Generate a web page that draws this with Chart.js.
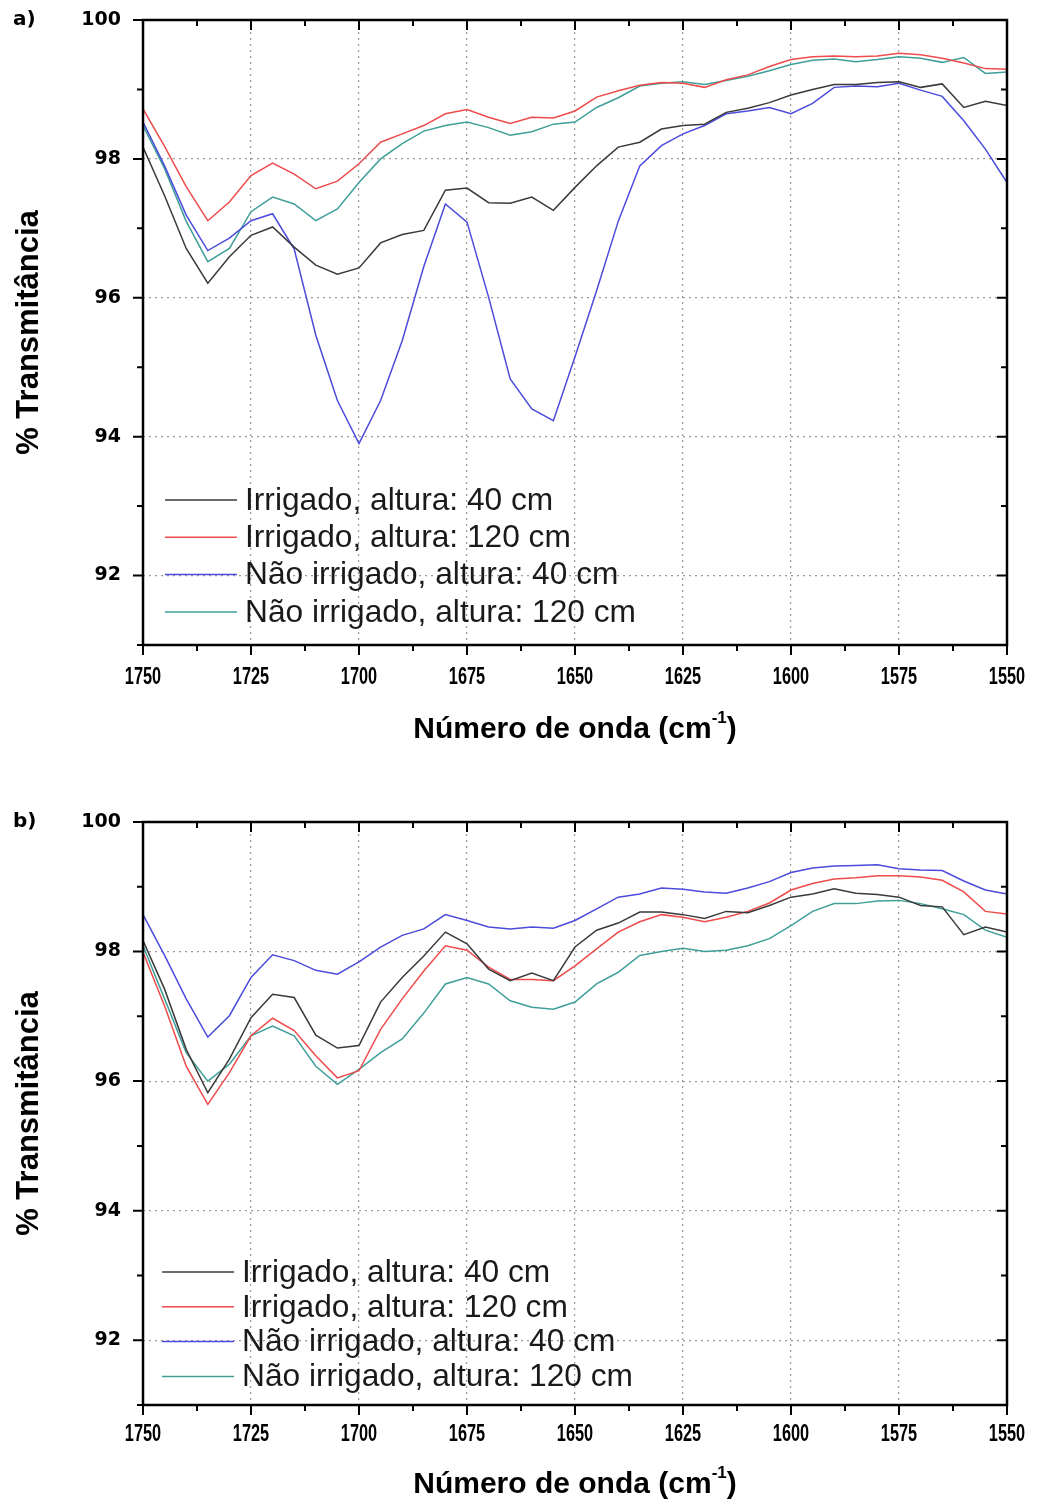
<!DOCTYPE html>
<html>
<head>
<meta charset="utf-8">
<title>Espectros FTIR</title>
<script src="https://cdn.jsdelivr.net/npm/chart.js@4.4.0/dist/chart.umd.min.js"></script>
<style>
  html, body { margin: 0; padding: 0; background: #fff; }
  canvas { display: block; }
</style>
</head>
<body>
<canvas id="chart-a" width="1038" height="751"></canvas>
<canvas id="chart-b" width="1038" height="751"></canvas>
<script>
"use strict";

// eixo x comum (cm-1), do maior para o menor
var waveNumbers = [1750, 1745, 1740, 1735, 1730, 1725, 1720, 1715, 1710, 1705,
    1700, 1695, 1690, 1685, 1680, 1675, 1670, 1665, 1660, 1655,
    1650, 1645, 1640, 1635, 1630, 1625, 1620, 1615, 1610, 1605,
    1600, 1595, 1590, 1585, 1580, 1575, 1570, 1565, 1560, 1555, 1550];

var xTickValues = [1750, 1725, 1700, 1675, 1650, 1625, 1600, 1575, 1550];
var yTickValues = [92, 94, 96, 98, 100];

var seriesLabels = ["Irrigado, altura: 40 cm", "Irrigado, altura: 120 cm",
    "Não irrigado, altura: 40 cm", "Não irrigado, altura: 120 cm"];
var seriesColors = ["#3a3a3a", "#ee4b4b", "#4b4bdc", "#3f9f99"];

// painel a)
var irrig40A = [98.17, 97.47, 96.71, 96.21, 96.59, 96.90, 97.02, 96.73, 96.47, 96.34,
    96.43, 96.79, 96.91, 96.97, 97.55, 97.58, 97.37, 97.36, 97.45, 97.26,
    97.59, 97.90, 98.17, 98.24, 98.43, 98.48, 98.50, 98.67, 98.73, 98.81,
    98.92, 99.00, 99.07, 99.07, 99.10, 99.11, 99.03, 99.08, 98.74, 98.83, 98.77];
var irrig120A = [98.72, 98.18, 97.60, 97.11, 97.38, 97.76, 97.94, 97.78, 97.57, 97.68,
    97.93, 98.24, 98.36, 98.48, 98.65, 98.71, 98.60, 98.51, 98.60, 98.59,
    98.69, 98.89, 98.98, 99.06, 99.10, 99.09, 99.03, 99.14, 99.21, 99.33,
    99.43, 99.47, 99.48, 99.47, 99.48, 99.52, 99.50, 99.45, 99.38, 99.30, 99.29];
var naoIrrig40A = [98.53, 97.90, 97.19, 96.68, 96.86, 97.11, 97.21, 96.70, 95.46, 94.52,
    93.90, 94.52, 95.38, 96.45, 97.35, 97.09, 96.01, 94.83, 94.40, 94.23,
    95.15, 96.10, 97.10, 97.90, 98.19, 98.36, 98.48, 98.65, 98.69, 98.74,
    98.65, 98.80, 99.03, 99.05, 99.04, 99.09, 98.99, 98.90, 98.55, 98.14, 97.66];
var naoIrrig120A = [98.48, 97.86, 97.10, 96.52, 96.71, 97.24, 97.45, 97.35, 97.11, 97.28,
    97.66, 98.00, 98.22, 98.40, 98.48, 98.53, 98.45, 98.34, 98.39, 98.50,
    98.53, 98.74, 98.88, 99.05, 99.09, 99.11, 99.07, 99.13, 99.19, 99.27,
    99.36, 99.42, 99.44, 99.40, 99.43, 99.47, 99.45, 99.39, 99.46, 99.23, 99.25];

// painel b)
var irrig40B = [98.17, 97.42, 96.49, 95.82, 96.34, 96.98, 97.34, 97.29, 96.71, 96.51,
    96.55, 97.22, 97.60, 97.93, 98.30, 98.12, 97.73, 97.55, 97.67, 97.55,
    98.07, 98.33, 98.44, 98.61, 98.61, 98.57, 98.51, 98.62, 98.60, 98.71,
    98.84, 98.89, 98.97, 98.90, 98.88, 98.84, 98.71, 98.69, 98.26, 98.38, 98.30];
var irrig120B = [97.99, 97.16, 96.23, 95.64, 96.13, 96.70, 96.97, 96.78, 96.39, 96.05,
    96.16, 96.80, 97.27, 97.70, 98.09, 98.02, 97.76, 97.57, 97.57, 97.55,
    97.78, 98.04, 98.30, 98.46, 98.57, 98.53, 98.46, 98.53, 98.62, 98.75,
    98.95, 99.05, 99.12, 99.14, 99.17, 99.17, 99.15, 99.10, 98.92, 98.62, 98.58];
var naoIrrig40B = [98.57, 97.94, 97.27, 96.68, 97.01, 97.60, 97.95, 97.86, 97.71, 97.65,
    97.84, 98.07, 98.25, 98.35, 98.57, 98.48, 98.38, 98.35, 98.38, 98.36,
    98.48, 98.66, 98.84, 98.89, 98.98, 98.96, 98.92, 98.90, 98.98, 99.08,
    99.22, 99.29, 99.32, 99.33, 99.34, 99.28, 99.26, 99.25, 99.09, 98.95, 98.89];
var naoIrrig120B = [98.09, 97.27, 96.44, 96.00, 96.26, 96.70, 96.85, 96.70, 96.23, 95.95,
    96.18, 96.44, 96.65, 97.05, 97.50, 97.60, 97.50, 97.24, 97.14, 97.11,
    97.22, 97.50, 97.68, 97.94, 98.00, 98.05, 98.00, 98.02, 98.09, 98.20,
    98.40, 98.62, 98.74, 98.74, 98.78, 98.79, 98.74, 98.66, 98.57, 98.33, 98.22];

var sansFont = '"Liberation Sans", Arial, sans-serif';
var wideFont = '"DejaVu Sans", "Liberation Sans", sans-serif';

function toPoints(values) {
    return values.map(function (v, i) { return {x: waveNumbers[i], y: v}; });
}

/* moldura, marcas menores/maiores, rótulos x, legenda e títulos dos eixos */
var axesFrame = {
    id: 'axesFrame',
    afterDatasetsDraw: function (chart, args, opts) {
        var ctx = chart.ctx, a = chart.chartArea;
        var xs = chart.scales.x, ys = chart.scales.y;
        var major = 10, minor = 6, i, p;
        ctx.save();
        ctx.strokeStyle = '#000';
        ctx.lineWidth = 2;
        ctx.beginPath();
        for (i = 0; i < xTickValues.length; i++) {
            p = xs.getPixelForValue(xTickValues[i]);
            ctx.moveTo(p, a.bottom); ctx.lineTo(p, a.bottom + major);
            ctx.moveTo(p, a.top); ctx.lineTo(p, a.top + major);
            if (i < xTickValues.length - 1) {
                p = xs.getPixelForValue(xTickValues[i] - 12.5);
                ctx.moveTo(p, a.bottom); ctx.lineTo(p, a.bottom + minor);
                ctx.moveTo(p, a.top); ctx.lineTo(p, a.top + minor);
            }
        }
        for (i = 0; i < yTickValues.length; i++) {
            p = ys.getPixelForValue(yTickValues[i]);
            ctx.moveTo(a.left - major, p); ctx.lineTo(a.left, p);
            ctx.moveTo(a.right - major, p); ctx.lineTo(a.right, p);
            p = ys.getPixelForValue(yTickValues[i] - 1);
            ctx.moveTo(a.left - minor, p); ctx.lineTo(a.left, p);
            ctx.moveTo(a.right - minor, p); ctx.lineTo(a.right, p);
        }
        ctx.stroke();
        ctx.lineWidth = 2.5;
        ctx.strokeRect(a.left, a.top, a.right - a.left, a.bottom - a.top);

        // rótulos do eixo x, em fonte estreita
        ctx.fillStyle = '#000';
        ctx.font = 'bold 24px ' + sansFont;
        ctx.textAlign = 'center';
        ctx.textBaseline = 'middle';
        for (i = 0; i < xTickValues.length; i++) {
            p = xs.getPixelForValue(xTickValues[i]);
            ctx.save();
            ctx.translate(p, a.bottom + opts.xLabelOffset);
            ctx.scale(0.68, 1);
            ctx.fillText(String(xTickValues[i]), 0, 0);
            ctx.restore();
        }

        // legenda dentro da área do gráfico
        ctx.font = '31.7px ' + sansFont;
        ctx.textAlign = 'left';
        chart.data.datasets.forEach(function (ds, k) {
            var y = opts.legendY + k * opts.legendStep;
            ctx.strokeStyle = ds.borderColor;
            ctx.lineWidth = 1.5;
            ctx.beginPath();
            ctx.moveTo(opts.legendX, y); ctx.lineTo(opts.legendX + 72, y);
            ctx.stroke();
            ctx.fillStyle = '#1a1a1a';
            ctx.fillText(ds.label, opts.legendX + 80, y + 1);
        });

        // rótulo do painel
        ctx.fillStyle = '#000';
        ctx.font = 'bold 20px ' + wideFont;
        ctx.fillText(opts.panel, 13, a.top);

        // título do eixo x com expoente
        var main = 'Número de onda (cm', sup = '-1', tail = ')';
        ctx.font = 'bold 30px ' + sansFont;
        var w1 = ctx.measureText(main).width, w3 = ctx.measureText(tail).width;
        ctx.font = 'bold 17px ' + sansFont;
        var w2 = ctx.measureText(sup).width;
        var x0 = (a.left + a.right) / 2 - (w1 + w2 + w3) / 2;
        ctx.font = 'bold 30px ' + sansFont;
        ctx.fillText(main, x0, opts.xTitleY);
        ctx.fillText(tail, x0 + w1 + w2, opts.xTitleY);
        ctx.font = 'bold 17px ' + sansFont;
        ctx.fillText(sup, x0 + w1, opts.xTitleY - 12);

        // título do eixo y
        ctx.font = 'bold 31px ' + sansFont;
        ctx.textAlign = 'center';
        ctx.translate(29, (a.top + a.bottom) / 2);
        ctx.rotate(-Math.PI / 2);
        ctx.fillText('% Transmitância', 0, 0);
        ctx.restore();
    }
};

function makeChart(id, series, frameOpts) {
    var ctx = document.getElementById(id).getContext('2d');
    return new Chart(ctx, {
        type: 'line',
        data: {
            datasets: series.map(function (values, k) {
                return {
                    label: seriesLabels[k],
                    data: toPoints(values),
                    borderColor: seriesColors[k],
                    borderWidth: 1.5,
                    pointRadius: 0,
                    fill: false,
                    tension: 0
                };
            })
        },
        options: {
            responsive: false,
            animation: false,
            devicePixelRatio: 1,
            layout: {padding: {left: 0, right: 31, top: frameOpts.top, bottom: 0}},
            plugins: {
                legend: {display: false},
                tooltip: {enabled: false},
                axesFrame: frameOpts
            },
            scales: {
                x: {
                    type: 'linear',
                    reverse: true,
                    min: 1550,
                    max: 1750,
                    afterBuildTicks: function (s) {
                        s.ticks = xTickValues.map(function (v) { return {value: v}; });
                    },
                    afterFit: function (s) {
                        s.height = frameOpts.xAxisHeight;
                        s.paddingLeft = 0;
                        s.paddingRight = 0;
                    },
                    grid: {color: '#9a9a9a', lineWidth: 1.2, drawTicks: false},
                    border: {display: false, dash: [2, 4]},
                    ticks: {display: false}
                },
                y: {
                    min: 91,
                    max: 100,
                    afterBuildTicks: function (s) {
                        s.ticks = yTickValues.map(function (v) { return {value: v}; });
                    },
                    afterFit: function (s) {
                        s.width = 143;
                        s.paddingTop = 0;
                        s.paddingBottom = 0;
                    },
                    grid: {color: '#9a9a9a', lineWidth: 1.2, drawTicks: false},
                    border: {display: false, dash: [2, 4]},
                    ticks: {
                        color: '#000',
                        padding: 22,
                        font: {family: wideFont, size: 19, weight: 'bold'}
                    }
                }
            }
        },
        plugins: [axesFrame]
    });
}

makeChart('chart-a', [irrig40A, irrig120A, naoIrrig40A, naoIrrig120A], {
    panel: 'a)', top: 20, xAxisHeight: 106, xLabelOffset: 32,
    legendX: 165, legendY: 500, legendStep: 37.3, xTitleY: 730
});
makeChart('chart-b', [irrig40B, irrig120B, naoIrrig40B, naoIrrig120B], {
    panel: 'b)', top: 71, xAxisHeight: 97, xLabelOffset: 29,
    legendX: 162, legendY: 521, legendStep: 34.8, xTitleY: 734
});
</script>
</body>
</html>
